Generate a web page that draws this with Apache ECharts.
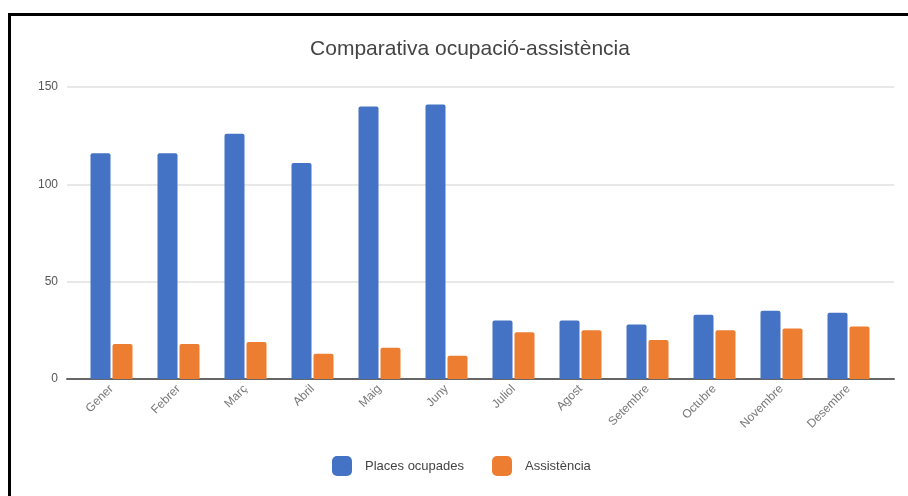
<!DOCTYPE html>
<html>
<head>
<meta charset="utf-8">
<script src="https://cdn.jsdelivr.net/npm/echarts@6/dist/echarts.min.js"></script>
<style>
  html, body { margin: 0; padding: 0; background: #fff; }
  #main { width: 908px; height: 496px; }
</style>
</head>
<body>
<div id="main"></div>
<script>
// Comparativa ocupació-assistència
var mesos = ['Gener', 'Febrer', 'Març', 'Abril', 'Maig', 'Juny', 'Juliol', 'Agost', 'Setembre', 'Octubre', 'Novembre', 'Desembre'];
var placesOcupades = [116, 116, 126, 111, 140, 141, 30, 30, 28, 33, 35, 34];
var assistencia = [18, 18, 19, 13, 16, 12, 24, 25, 20, 25, 26, 27];
var yTicks = { min: 0, max: 150, interval: 50 };

var chart = echarts.init(document.getElementById('main'));
var fontFam = '"Liberation Sans", Arial, sans-serif';

var option = {
    animation: false,
    backgroundColor: '#fff',
    textStyle: { fontFamily: fontFam },
    title: {
        text: 'Comparativa ocupació-assistència',
        left: 465,
        textAlign: 'center',
        top: 34,
        textStyle: { fontSize: 21, fontWeight: 'normal', color: '#444', fontFamily: fontFam }
    },
    legend: {
        left: 327,
        top: 451,
        icon: 'roundRect',
        itemWidth: 20,
        itemHeight: 20,
        itemGap: 28,
        textStyle: { fontSize: 13, color: '#444', padding: [0, 0, 0, 8] },
        data: ['Places ocupades', 'Assistència']
    },
    // grid 0: gridlines + baseline (wider), grid 1: the bars
    grid: [
        { left: 67, right: 14, top: 87, bottom: 117 },
        { left: 78, right: 26, top: 87, bottom: 117 }
    ],
    xAxis: [
        {
            gridIndex: 0, type: 'value', min: 0, max: 1,
            axisLine: { show: true, onZero: false, lineStyle: { color: '#666', width: 2 } },
            axisTick: { show: false }, axisLabel: { show: false }, splitLine: { show: false }
        },
        {
            gridIndex: 1, type: 'category', data: mesos,
            axisLine: { show: false }, axisTick: { show: false },
            axisLabel: { rotate: 45, fontSize: 12, color: '#777', margin: 8, interval: 0 }
        }
    ],
    yAxis: [
        {
            gridIndex: 0, type: 'value', min: yTicks.min, max: yTicks.max, interval: yTicks.interval,
            axisLine: { show: false }, axisTick: { show: false },
            axisLabel: { fontSize: 12, color: '#555', margin: 9 },
            splitLine: { lineStyle: { color: '#e0e0e0', width: 1.5 } }
        },
        {
            gridIndex: 1, type: 'value', min: yTicks.min, max: yTicks.max, interval: yTicks.interval,
            axisLine: { show: false }, axisTick: { show: false },
            axisLabel: { show: false }, splitLine: { show: false }
        }
    ],
    series: [
        {
            name: 'Places ocupades', type: 'bar', xAxisIndex: 1, yAxisIndex: 1,
            data: placesOcupades, barWidth: 20, barGap: '10%',
            itemStyle: { color: '#4472C4', borderRadius: [2, 2, 0, 0] }
        },
        {
            name: 'Assistència', type: 'bar', xAxisIndex: 1, yAxisIndex: 1,
            data: assistencia, barWidth: 20, barGap: '10%',
            itemStyle: { color: '#ED7D31', borderRadius: [2, 2, 0, 0] }
        }
    ],
    graphic: [
        {
            type: 'rect', z: 100, silent: true,
            shape: { x: 9.5, y: 14.5, width: 1000, height: 1000 },
            style: { fill: 'none', stroke: '#000', lineWidth: 3 }
        }
    ]
};

chart.setOption(option);
</script>
</body>
</html>
